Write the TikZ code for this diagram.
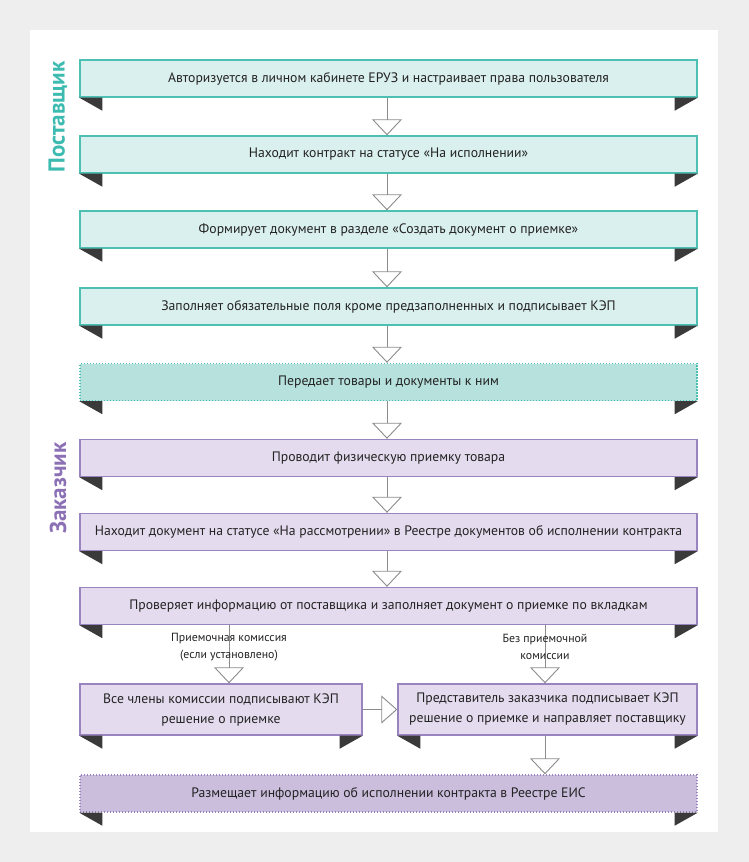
\documentclass[tikz,border=0pt]{standalone}
\usepackage{fontspec}
\setmainfont{PT Sans}
\usetikzlibrary{arrows.meta,calc}
\definecolor{bgc}{HTML}{EEEEEE}
\definecolor{tfill}{HTML}{DAF0EE}
\definecolor{tline}{HTML}{4EBFB3}
\definecolor{tdfill}{HTML}{B6E1DD}
\definecolor{pfill}{HTML}{E5DBEE}
\definecolor{pline}{HTML}{9A84BF}
\definecolor{pdfill}{HTML}{CBBEDD}
\definecolor{foldc}{HTML}{3A3A3A}
\definecolor{arrc}{HTML}{8C8C8C}
\definecolor{txt}{HTML}{222222}
\definecolor{thead}{HTML}{3DBBB0}
\definecolor{phead}{HTML}{8C70B5}
\tikzset{
  box/.style={draw, line width=1.4pt, minimum height=37pt, inner sep=2pt, text=txt, font=\fontsize{13.7}{20}\selectfont, align=center},
  tbox/.style={box, fill=tfill, draw=tline, minimum width=617pt},
  tdot/.style={tbox, fill=tdfill, line width=1.4pt, dash pattern=on 1.4pt off 1.6pt},
  pbox/.style={box, fill=pfill, draw=pline, minimum width=617pt},
  pdot/.style={pbox, fill=pdfill, dash pattern=on 1.4pt off 1.6pt},
  fold/.style={fill=foldc},
  flow/.style={draw=arrc, line width=0.9pt, -{Triangle[open, width=30pt, length=16pt]}},
  flowh/.style={draw=arrc, line width=0.9pt, -{Triangle[open, width=28pt, length=16pt]}},
  head/.style={rotate=90, font=\fontsize{23}{26}\selectfont\bfseries},
  lbl/.style={font=\fontsize{11.8}{17}\selectfont, text=txt, align=center, inner sep=0pt}
}
\newcommand{\mkfolds}[1]{%
  \fill[fold] (#1.south west) -- ++(23,0) -- ++(0,13) -- cycle;
  \fill[fold] (#1.south east) -- ++(-23,0) -- ++(0,13) -- cycle;}
\begin{document}
\begin{tikzpicture}[x=1pt,y=-1pt]
\useasboundingbox (0,0) rectangle (749,862);
\fill[bgc] (0,0) rectangle (749,862);
\fill[white] (30,30) rectangle (718,832);

\node[head, text=thead] (hs) at (58,117) {Поставщик};
\node[head, text=phead] (hz) at (58,488) {Заказчик};

\node[tbox] (b1) at (388.5,78.5) {Авторизуется в личном кабинете ЕРУЗ и настраивает права пользователя};
\node[tbox] (b2) at (388.5,154.5) {Находит контракт на статусе «На исполнении»};
\node[tbox] (b3) at (388.5,229.5) {Формирует документ в разделе «Создать документ о приемке»};
\node[tbox] (b4) at (388.5,306.5) {Заполняет обязательные поля кроме предзаполненных и подписывает КЭП};
\node[tdot] (b5) at (388.5,382) {Передает товары и документы к ним};
\node[pbox] (b6) at (388.5,458) {Проводит физическую приемку товара};
\node[pbox] (b7) at (388.5,532) {Находит документ на статусе «На рассмотрении» в Реестре документов об исполнении контракта};
\node[pbox] (b8) at (388.5,606) {Проверяет информацию от поставщика и заполняет документ о приемке по вкладкам};
\node[pbox, minimum width=282pt, minimum height=51pt] (b9a) at (221,709.5) {Все члены комиссии подписывают КЭП\\решение о приемке};
\node[pbox, minimum width=299pt, minimum height=51pt] (b9b) at (547.5,709.5) {Представитель заказчика подписывает КЭП\\решение о приемке и направляет поставщику};
\node[pdot] (b10) at (388.5,793.5) {Размещает информацию об исполнении контракта в Реестре ЕИС};

\foreach \b in {b1,b2,b3,b4,b5,b6,b7,b8,b9a,b9b,b10} {\mkfolds{\b}}

\foreach \a/\b in {b1/b2,b2/b3,b3/b4,b4/b5,b5/b6,b6/b7,b7/b8} {
  \draw[flow] (\a.south -| 387,0) -- (\b.north -| 387,0);
}
\coordinate (la) at (229,0);
\coordinate (ra) at (545,0);
\draw[flow] (b8.south -| la) -- (b9a.north -| la);
\draw[flow] (b8.south -| ra) -- (b9b.north -| ra);
\draw[flowh] (b9a.east) -- (b9b.west);
\draw[flow] (b9b.south -| ra) -- (b10.north -| ra);

\node[lbl] (l1) at (229,647) {Приемочная комиссия\\(если установлено)};
\node[lbl] (l2) at (545,647) {Без приемочной\\комиссии};
\end{tikzpicture}
\end{document}
